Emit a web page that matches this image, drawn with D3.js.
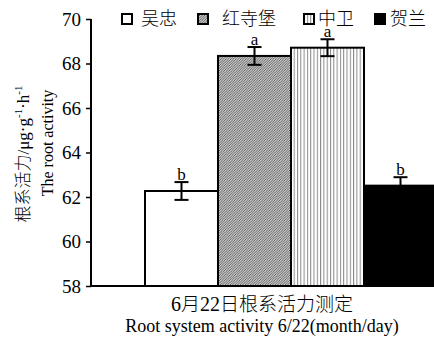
<!DOCTYPE html>
<html>
<head>
<meta charset="utf-8">
<script src="https://cdn.jsdelivr.net/npm/d3@7"></script>
<style>
  html, body { margin: 0; padding: 0; background: #fff; }
  svg { display: block; }
  text { font-family: "Liberation Serif", "Times New Roman", "Noto Sans CJK SC", serif; fill: #000; }
</style>
</head>
<body>
<svg id="chart" width="434" height="340"></svg>
<script>
// Root activity by site, 22 June
const sites = ["吴忠", "红寺堡", "中卫", "贺兰"];
const activity = [62.27, 68.34, 68.71, 62.51];
const stdErr = [0.40, 0.40, 0.38, 0.38];
const letters = ["b", "a", "a", "b"];
const yTicks = [58, 60, 62, 64, 66, 68, 70];

const svg = d3.select("#chart");
const W = 434, H = 340;
const plotLeft = 91, plotBottom = 286, plotTop = 19;

const y = d3.scaleLinear().domain([58, 70]).range([plotBottom, plotTop]);
const x = d3.scaleBand().domain(sites).range([145, 437]).paddingInner(0).paddingOuter(0);

// fill patterns
const defs = svg.append("defs");
const hatch = defs.append("pattern").attr("id", "hatch")
  .attr("patternUnits", "userSpaceOnUse").attr("width", 2.5).attr("height", 2.5);
hatch.append("rect").attr("width", 2.5).attr("height", 2.5).attr("fill", "#fff");
hatch.append("path").attr("d", "M-1,1 L1,-1 M0,2.5 L2.5,0 M1.5,3.5 L3.5,1.5")
  .attr("stroke", "#444").attr("stroke-width", 0.9);

const vstripe = defs.append("pattern").attr("id", "vstripe")
  .attr("patternUnits", "userSpaceOnUse").attr("width", 3.3).attr("height", 4);
vstripe.append("rect").attr("width", 3.3).attr("height", 4).attr("fill", "#fff");
vstripe.append("rect").attr("x", 0).attr("width", 1).attr("height", 4).attr("fill", "#888");

const fills = ["#fff", "url(#hatch)", "url(#vstripe)", "#000"];

// bars
svg.append("g").selectAll("rect").data(sites).join("rect")
  .attr("x", d => x(d))
  .attr("y", (d, i) => y(activity[i]))
  .attr("width", x.bandwidth())
  .attr("height", (d, i) => y(58) - y(activity[i]))
  .attr("fill", (d, i) => fills[i])
  .attr("stroke", "#000")
  .attr("stroke-width", 2);

// error bars with significance letters
const eb = svg.append("g").attr("stroke", "#000").attr("stroke-width", 2);
sites.forEach((s, i) => {
  const cx = x(s) + x.bandwidth() / 2;
  const hi = y(activity[i] + stdErr[i]);
  const lo = y(activity[i] - stdErr[i]);
  eb.append("line").attr("x1", cx).attr("x2", cx).attr("y1", hi).attr("y2", lo);
  eb.append("line").attr("x1", cx - 7).attr("x2", cx + 7).attr("y1", hi).attr("y2", hi);
  eb.append("line").attr("x1", cx - 7).attr("x2", cx + 7).attr("y1", lo).attr("y2", lo);
  svg.append("text")
    .attr("x", cx).attr("y", hi - 2.5)
    .attr("text-anchor", "middle")
    .attr("font-size", 17)
    .text(letters[i]);
});

// y axis
const yAxis = svg.append("g")
  .attr("transform", `translate(${plotLeft},0)`)
  .call(d3.axisLeft(y).tickValues(yTicks).tickSize(5).tickPadding(5).tickFormat(d3.format("d")));
yAxis.select(".domain").attr("stroke", "#000").attr("stroke-width", 2)
  .attr("d", `M0,${plotTop}V${plotBottom}`);
yAxis.selectAll(".tick line").attr("stroke", "#000").attr("stroke-width", 1.5);
yAxis.selectAll(".tick text")
  .attr("font-family", "Liberation Serif, serif")
  .attr("font-size", 19).attr("fill", "#000");

// x baseline
svg.append("line")
  .attr("x1", plotLeft).attr("x2", W)
  .attr("y1", plotBottom).attr("y2", plotBottom)
  .attr("stroke", "#000").attr("stroke-width", 2);

// y axis title (two lines)
const yt1 = svg.append("text")
  .attr("transform", "translate(29,154) rotate(-90)")
  .attr("text-anchor", "middle")
  .attr("font-size", 17);
yt1.append("tspan").attr("font-family", "Noto Sans CJK SC, sans-serif").attr("font-weight", 300).text("根系活力");
yt1.append("tspan").text("/μg·g");
yt1.append("tspan").attr("font-size", 11).attr("dy", -7).text("-1");
yt1.append("tspan").attr("dy", 7).text("·h");
yt1.append("tspan").attr("font-size", 11).attr("dy", -7).text("-1");

svg.append("text")
  .attr("transform", "translate(53,143) rotate(-90)")
  .attr("text-anchor", "middle")
  .attr("font-size", 16)
  .text("The root activity");

// x axis titles
const xt1 = svg.append("text")
  .attr("x", 262).attr("y", 311)
  .attr("text-anchor", "middle")
  .attr("font-size", 20);
xt1.append("tspan").text("6");
xt1.append("tspan").attr("font-family", "Noto Sans CJK SC, sans-serif").attr("font-size", 19).attr("font-weight", 300).text("月");
xt1.append("tspan").text("22");
xt1.append("tspan").attr("font-family", "Noto Sans CJK SC, sans-serif").attr("font-size", 19).attr("font-weight", 300).text("日根系活力测定");

svg.append("text")
  .attr("x", 262).attr("y", 332)
  .attr("text-anchor", "middle")
  .attr("font-size", 18)
  .text("Root system activity 6/22(month/day)");

// legend
const legendBoxX = [122, 198, 304, 375];
const legendTextX = [141, 222, 318, 390];
const lg = svg.append("g");
sites.forEach((s, i) => {
  lg.append("rect")
    .attr("x", legendBoxX[i]).attr("y", 14)
    .attr("width", 10).attr("height", 10)
    .attr("fill", fills[i])
    .attr("stroke", "#000").attr("stroke-width", 2);
  lg.append("text")
    .attr("x", legendTextX[i]).attr("y", 25)
    .attr("font-family", "Noto Sans CJK SC, sans-serif")
    .attr("font-weight", 300)
    .attr("font-size", 18)
    .text(s);
});
</script>
</body>
</html>
